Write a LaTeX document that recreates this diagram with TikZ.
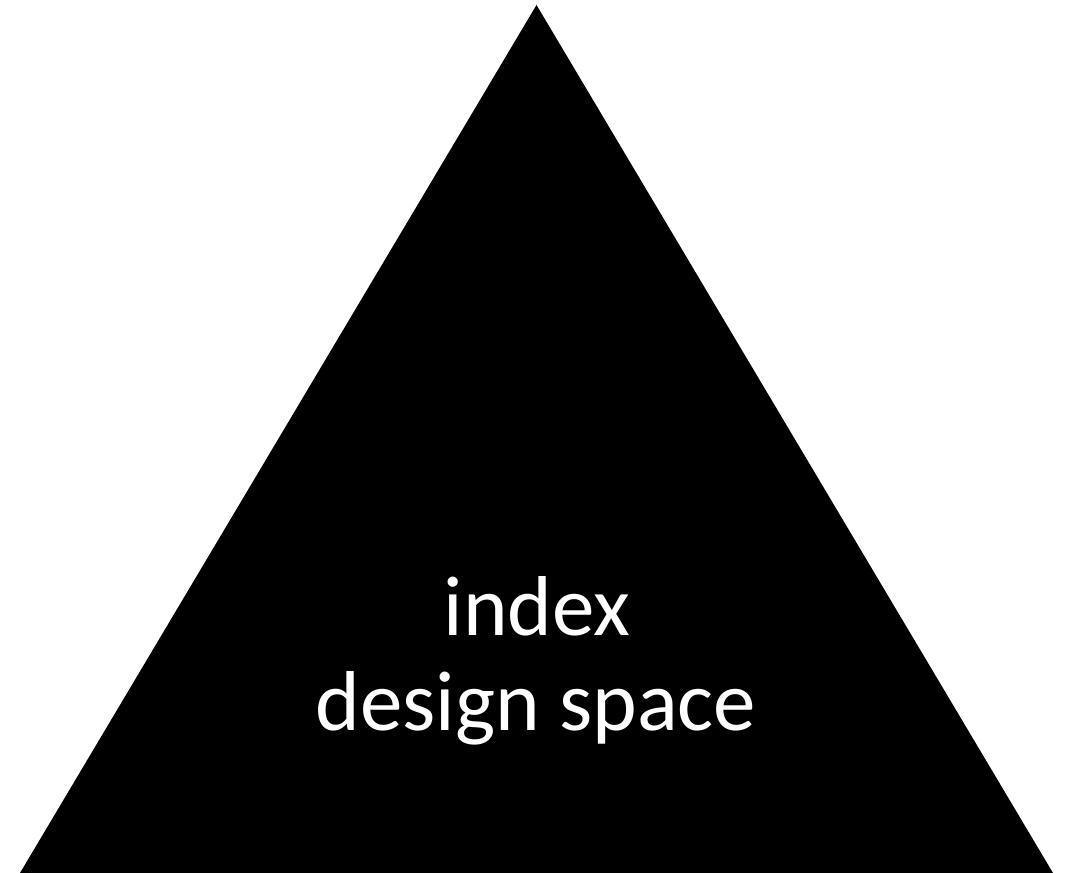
\documentclass[tikz,border=0pt]{standalone}
\usepackage{fontspec}
\setmainfont{Carlito}
\begin{document}
\begin{tikzpicture}[x=1pt,y=1pt,
  lbl/.style={text=white,anchor=base,inner sep=0pt,font=\fontsize{85}{100}\selectfont}]
\useasboundingbox (0,0) rectangle (1074,873);
\fill[black] (20,0) -- (1053,0) -- (536.5,868) -- cycle;
\node[lbl] (t1) at (537,237) {index};
\node[lbl] (t2) at (536,142) {design space};
\end{tikzpicture}
\end{document}
